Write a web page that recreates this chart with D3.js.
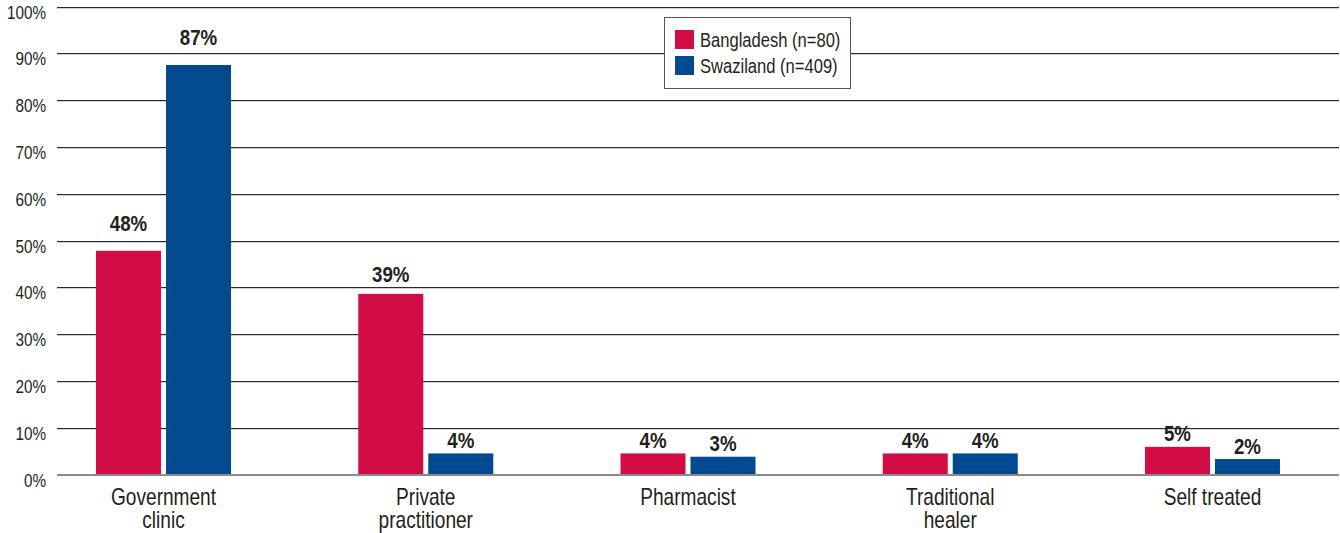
<!DOCTYPE html>
<html>
<head>
<meta charset="utf-8">
<script src="https://cdn.jsdelivr.net/npm/d3@7"></script>
<style>
  html, body { margin: 0; padding: 0; background: #fff; }
  svg { display: block; }
  text { font-family: "Liberation Sans", Arial, sans-serif; fill: #231F20; }
</style>
</head>
<body>
<svg id="chart" width="1340" height="533"></svg>
<script>
const categories = ["Government\nclinic", "Private\npractitioner", "Pharmacist", "Traditional\nhealer", "Self treated"];
const seriesNames = ["Bangladesh (n=80)", "Swaziland (n=409)"];
const bangladesh = [47.8, 38.6, 4.5, 4.5, 5.9];
const swaziland = [87.5, 4.5, 3.8, 4.5, 3.3];
const bangladeshLabels = ["48%", "39%", "4%", "4%", "5%"];
const swazilandLabels = ["87%", "4%", "3%", "4%", "2%"];
const yTicks = [0, 10, 20, 30, 40, 50, 60, 70, 80, 90, 100];
const colors = ["#D20C45", "#024A8F"];

const SX = 0.85; // condensed look
const svg = d3.select("#chart");
const y = d3.scaleLinear().domain([0, 100]).range([474.5, 6.5]);
const x0 = d3.scaleBand().domain(categories).range([32.4, 1343.6]);
const x1 = d3.scaleBand().domain(seriesNames).range([-67.5, 67.5]).paddingInner(5 / 70);

// gridlines
const grid = svg.append("g");
yTicks.filter(t => t > 0).forEach(t => {
  const yy = Math.round(y(t));
  grid.append("line").attr("x1", 57).attr("x2", 1339)
    .attr("y1", yy + 0.5).attr("y2", yy + 0.5)
    .attr("stroke", "#2b2b2b").attr("stroke-width", 1);
  grid.append("line").attr("x1", 57).attr("x2", 1339)
    .attr("y1", yy + 1.5).attr("y2", yy + 1.5)
    .attr("stroke", "#cfcfcf").attr("stroke-width", 1);
});

// y axis labels
const yAxis = d3.axisLeft(y).tickValues(yTicks).tickFormat(d => d + "%").tickSize(0).tickPadding(0);
const yg = svg.append("g").attr("transform", "translate(46,0)").call(yAxis);
yg.select(".domain").remove();
yg.selectAll(".tick text")
  .attr("x", null).attr("dy", null).attr("y", null)
  .attr("transform", `translate(0,11.5) scale(${SX},1)`)
  .attr("font-size", 18).attr("text-anchor", "end")
  .attr("font-family", "'Liberation Sans', Arial, sans-serif").attr("fill", "#231F20");

// bars
const data = categories.map((c, i) => ({
  cat: c,
  vals: [
    { s: seriesNames[0], v: bangladesh[i], lab: bangladeshLabels[i], col: colors[0] },
    { s: seriesNames[1], v: swaziland[i], lab: swazilandLabels[i], col: colors[1] }
  ]
}));

const groups = svg.append("g").selectAll("g").data(data).join("g")
  .attr("transform", d => `translate(${x0(d.cat) + x0.bandwidth() / 2},0)`);

groups.selectAll("rect").data(d => d.vals).join("rect")
  .attr("x", d => x1(d.s))
  .attr("width", x1.bandwidth())
  .attr("y", d => y(d.v))
  .attr("height", d => y(0) - y(d.v))
  .attr("fill", d => d.col);

groups.selectAll("text.val").data(d => d.vals).join("text")
  .attr("class", "val")
  .attr("transform", d => `translate(${x1(d.s) + x1.bandwidth() / 2},${y(d.v) - (d.v > 40 ? 20 : 4.5 + d.v * 0.2)}) scale(0.87,1)`)
  .attr("text-anchor", "middle")
  .attr("font-size", 21.5)
  .attr("font-weight", "bold")
  .text(d => d.lab);

// baseline
svg.append("line").attr("x1", 57).attr("x2", 1339).attr("y1", y(0) + 0.5).attr("y2", y(0) + 0.5)
  .attr("stroke", "#8a8a8a").attr("stroke-width", 2);

// x labels
const xAxis = d3.axisBottom(x0).tickSize(0).tickFormat("");
const xg = svg.append("g").attr("transform", `translate(0,${y(0)})`).call(xAxis);
xg.select(".domain").remove();
xg.selectAll(".tick").each(function(d) {
  const t = d3.select(this).append("text")
    .attr("text-anchor", "middle").attr("font-size", 23).attr("fill", "#231F20")
    .attr("transform", "scale(0.83,1)")
    .attr("font-family", "'Liberation Sans', Arial, sans-serif");
  d.split("\n").forEach((line, i) => {
    t.append("tspan").attr("x", 0).attr("y", 30.5 + i * 23).text(line);
  });
});

// legend
const lg = svg.append("g");
lg.append("rect").attr("x", 664.5).attr("y", 17.5).attr("width", 186).attr("height", 71)
  .attr("fill", "#fff").attr("stroke", "#555").attr("stroke-width", 1);
seriesNames.forEach((s, i) => {
  lg.append("rect").attr("x", 675).attr("y", 30 + i * 26).attr("width", 19).attr("height", 19).attr("fill", colors[i]);
  lg.append("text").attr("transform", `translate(700,${46.5 + i * 26}) scale(0.85,1)`)
    .attr("font-size", 19.5).text(s);
});
</script>
</body>
</html>
